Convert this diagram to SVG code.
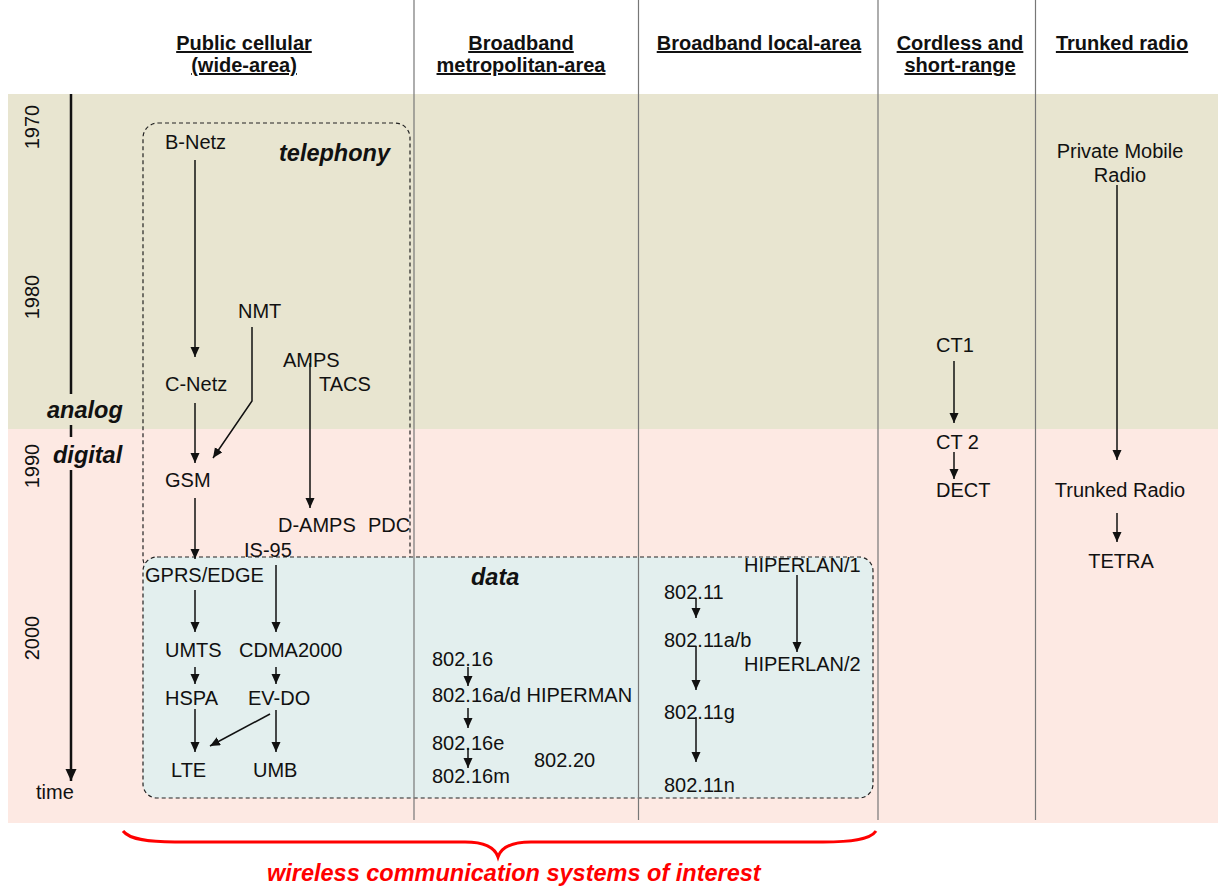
<svg xmlns="http://www.w3.org/2000/svg" width="1218" height="887" viewBox="0 0 1218 887">
  <style>
    text { font-family: "Liberation Sans", Arial, sans-serif; fill: #111; }
    .n { font-size: 20px; }
    .hd { font-size: 20px; font-weight: bold; text-decoration: underline; text-anchor: middle; }
    .bi { font-size: 23.5px; font-weight: bold; font-style: italic; }
    .yr { font-size: 20px; text-anchor: middle; }
    .mid { text-anchor: middle; }
    .sep { stroke: #777; stroke-width: 1.2; }
    .box { stroke: #222; stroke-width: 1.2; stroke-dasharray: 4 3; }
    .ar { stroke: #111; stroke-width: 1.5; fill: none; marker-end: url(#ah); }
  </style>
  <defs>
    <marker id="ah" markerUnits="userSpaceOnUse" markerWidth="10" markerHeight="10" refX="10" refY="4.5" orient="auto">
      <path d="M0,0 L10,4.5 L0,9 z" fill="#111"/>
    </marker>
    <marker id="ahBig" markerUnits="userSpaceOnUse" markerWidth="12" markerHeight="12" refX="12" refY="5.5" orient="auto">
      <path d="M0,0 L12,5.5 L0,11 z" fill="#111"/>
    </marker>
  </defs>

  <!-- era bands -->
  <rect x="0" y="0" width="1218" height="887" fill="#fff"/>
  <rect id="band-analog" x="8" y="94" width="1210" height="335" fill="#E8E5D0"/>
  <rect id="band-digital" x="8" y="429" width="1210" height="394" fill="#FDE9E3"/>

  <!-- grouping boxes -->
  <g id="telephony-box">
    <rect class="box" x="143" y="123" width="267" height="450" rx="15" fill="none"/>
    <text class="bi" x="390" y="161" text-anchor="end">telephony</text>
  </g>
  <g id="data-box">
    <rect class="box" x="143" y="557" width="730" height="241" rx="14" fill="#E3EFEE"/>
    <text class="bi" x="471" y="585">data</text>
  </g>

  <!-- column separators -->
  <g id="separators">
    <line class="sep" x1="414" y1="0" x2="414" y2="820"/>
    <line class="sep" x1="638.5" y1="0" x2="638.5" y2="820"/>
    <line class="sep" x1="878" y1="0" x2="878" y2="820"/>
    <line class="sep" x1="1035.5" y1="0" x2="1035.5" y2="820"/>
  </g>

  <!-- column headings -->
  <g id="headings">
    <text class="hd" x="244" y="50">Public cellular</text>
    <text class="hd" x="244" y="72">(wide-area)</text>
    <text class="hd" x="521" y="50">Broadband</text>
    <text class="hd" x="521" y="72">metropolitan-area</text>
    <text class="hd" x="759" y="50">Broadband local-area</text>
    <text class="hd" x="960" y="50">Cordless and</text>
    <text class="hd" x="960" y="72">short-range</text>
    <text class="hd" x="1122" y="50">Trunked radio</text>
  </g>

  <!-- time axis -->
  <g id="time-axis">
    <line x1="71" y1="94" x2="71" y2="394" stroke="#111" stroke-width="2.5"/>
    <line x1="71" y1="425" x2="71" y2="437" stroke="#111" stroke-width="2.5"/>
    <line x1="71" y1="470" x2="71" y2="781" stroke="#111" stroke-width="2.5" marker-end="url(#ahBig)"/>
    <text class="yr" transform="translate(39,127) rotate(-90)">1970</text>
    <text class="yr" transform="translate(39,297) rotate(-90)">1980</text>
    <text class="yr" transform="translate(39,466) rotate(-90)">1990</text>
    <text class="yr" transform="translate(39,638) rotate(-90)">2000</text>
    <text class="bi" x="47" y="418">analog</text>
    <text class="bi" x="53" y="463">digital</text>
    <text class="n" x="36" y="799">time</text>
  </g>

  <!-- connectors -->
  <g id="connectors">
    <line class="ar" x1="195" y1="160" x2="195" y2="357"/>
    <line class="ar" x1="195" y1="403" x2="195" y2="463"/>
    <polyline class="ar" points="252,327 252,401 213,458"/>
    <line class="ar" x1="310" y1="363" x2="310" y2="508"/>
    <line class="ar" x1="195" y1="498" x2="195" y2="559"/>
    <line class="ar" x1="195" y1="590" x2="195" y2="632"/>
    <line class="ar" x1="276" y1="565" x2="276" y2="632"/>
    <line class="ar" x1="195" y1="667" x2="195" y2="684"/>
    <line class="ar" x1="276" y1="667" x2="276" y2="684"/>
    <line class="ar" x1="195" y1="709" x2="195" y2="752"/>
    <line class="ar" x1="270" y1="714" x2="210" y2="746"/>
    <line class="ar" x1="276" y1="710" x2="276" y2="752"/>
    <line class="ar" x1="468" y1="667" x2="468" y2="686"/>
    <line class="ar" x1="468" y1="708" x2="468" y2="728"/>
    <line class="ar" x1="468" y1="748" x2="468" y2="768"/>
    <line class="ar" x1="696" y1="598" x2="696" y2="618"/>
    <line class="ar" x1="696" y1="646" x2="696" y2="690"/>
    <line class="ar" x1="696" y1="717" x2="696" y2="762"/>
    <line class="ar" x1="797" y1="575" x2="797" y2="652"/>
    <line class="ar" x1="954" y1="361" x2="954" y2="423"/>
    <line class="ar" x1="954" y1="452" x2="954" y2="479"/>
    <line class="ar" x1="1117" y1="185" x2="1117" y2="460"/>
    <line class="ar" x1="1117" y1="513" x2="1117" y2="542"/>
  </g>

  <!-- public cellular -->
  <g id="b-netz"><text class="n" x="165" y="149">B-Netz</text></g>
  <g id="nmt"><text class="n" x="238" y="318">NMT</text></g>
  <g id="amps"><text class="n" x="283" y="367">AMPS</text></g>
  <g id="tacs"><text class="n" x="319" y="391">TACS</text></g>
  <g id="c-netz"><text class="n" x="165" y="391">C-Netz</text></g>
  <g id="gsm"><text class="n" x="165" y="487">GSM</text></g>
  <g id="d-amps"><text class="n" x="278" y="532">D-AMPS</text></g>
  <g id="pdc"><text class="n" x="368" y="532">PDC</text></g>
  <g id="is-95"><text class="n" x="244" y="557">IS-95</text></g>
  <g id="gprs-edge"><text class="n" x="145" y="582">GPRS/EDGE</text></g>
  <g id="umts"><text class="n" x="165" y="657">UMTS</text></g>
  <g id="cdma2000"><text class="n" x="239" y="657">CDMA2000</text></g>
  <g id="hspa"><text class="n" x="165" y="705">HSPA</text></g>
  <g id="ev-do"><text class="n" x="248" y="705">EV-DO</text></g>
  <g id="lte"><text class="n" x="171" y="777">LTE</text></g>
  <g id="umb"><text class="n" x="253" y="777">UMB</text></g>

  <!-- broadband metropolitan-area -->
  <g id="w80216"><text class="n" x="432" y="666">802.16</text></g>
  <g id="w80216ad"><text class="n" x="432" y="702">802.16a/d HIPERMAN</text></g>
  <g id="w80216e"><text class="n" x="432" y="750">802.16e</text></g>
  <g id="w80216m"><text class="n" x="432" y="783">802.16m</text></g>
  <g id="w80220"><text class="n" x="534" y="767">802.20</text></g>

  <!-- broadband local-area -->
  <g id="hiperlan1"><text class="n" x="744" y="572">HIPERLAN/1</text></g>
  <g id="w80211"><text class="n" x="664" y="599">802.11</text></g>
  <g id="w80211ab"><text class="n" x="664" y="647">802.11a/b</text></g>
  <g id="hiperlan2"><text class="n" x="744" y="671">HIPERLAN/2</text></g>
  <g id="w80211g"><text class="n" x="664" y="719">802.11g</text></g>
  <g id="w80211n"><text class="n" x="664" y="792">802.11n</text></g>

  <!-- cordless and short-range -->
  <g id="ct1"><text class="n" x="936" y="352">CT1</text></g>
  <g id="ct2"><text class="n" x="936" y="449">CT 2</text></g>
  <g id="dect"><text class="n" x="936" y="497">DECT</text></g>

  <!-- trunked radio -->
  <g id="pmr"><text class="n mid" x="1120" y="158">Private Mobile</text><text class="n mid" x="1120" y="182">Radio</text></g>
  <g id="trunked"><text class="n mid" x="1120" y="497">Trunked Radio</text></g>
  <g id="tetra"><text class="n mid" x="1121" y="568">TETRA</text></g>

  <!-- scope brace -->
  <g id="scope">
    <path d="M123,831 C130,840 150,842 175,842 L465,842 C485,842 495,848 498,857 C501,848 511,842 531,842 L823,842 C850,842 870,840 876,831" fill="none" stroke="#F00" stroke-width="3"/>
    <text class="bi" x="267" y="881" style="fill:#F00">wireless communication systems of interest</text>
  </g>
</svg>
